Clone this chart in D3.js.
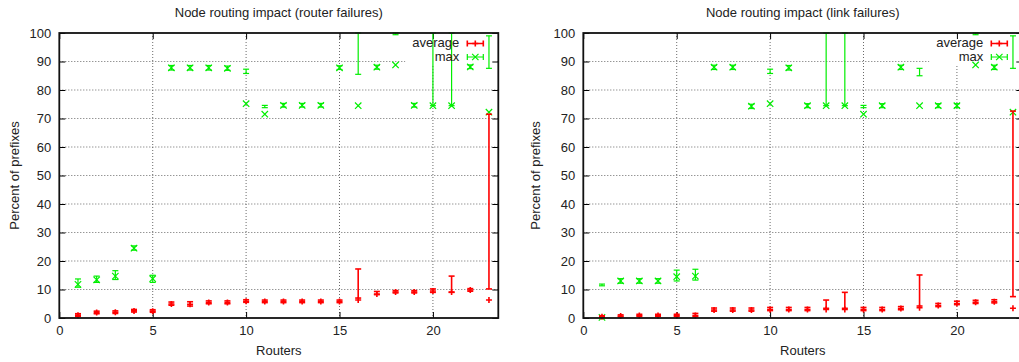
<!DOCTYPE html>
<html>
<head>
<meta charset="utf-8">
<script src="https://cdn.jsdelivr.net/npm/d3@7"></script>
<style>
  body { margin: 0; background: #fff; }
  svg { display: block; font-family: "Liberation Sans", Arial, sans-serif; }
</style>
</head>
<body>
<div id="chart"></div>
<script>
// routers on the x axis
const routers = [1, 2, 3, 4, 5, 6, 7, 8, 9, 10, 11, 12, 13, 14, 15, 16, 17, 18, 19, 20, 21, 22, 23];
const xTicks = [0, 5, 10, 15, 20];
const yTicks = [0, 10, 20, 30, 40, 50, 60, 70, 80, 90, 100];

// router failures
const avgRouter   = [1.0, 1.9, 2.0, 2.5, 2.4, 4.9, 4.8, 5.4, 5.4, 5.9, 5.8, 5.8, 5.8, 5.8, 5.8, 6.3, 8.4, 9.1, 9.1, 9.5, 9.1, 9.8, 6.3];
const avgRouterLo = [0.6, 1.5, 1.6, 2.1, 2.0, 4.5, 4.2, 5.0, 5.0, 5.5, 5.4, 5.4, 5.4, 5.4, 5.4, 7.0, 8.2, 8.8, 8.8, 9.0, 9.0, 9.4, 10.2];
const avgRouterHi = [1.5, 2.4, 2.5, 3.0, 2.9, 5.6, 5.7, 6.0, 6.0, 6.4, 6.3, 6.3, 6.3, 6.3, 6.3, 17.2, 9.3, 9.6, 9.6, 10.2, 14.7, 10.3, 71.5];
const maxRouter   = [11.8, 13.4, 14.7, 24.5, 13.8, 87.8, 87.8, 87.8, 87.6, 75.2, 71.5, 74.6, 74.6, 74.6, 87.8, 74.5, 88.0, 88.8, 74.6, 74.5, 74.5, 88.1, 72.2];
const maxRouterLo = [10.8, 12.5, 13.5, 23.8, 12.5, 87.0, 87.0, 87.0, 86.9, 85.8, 73.8, 74.0, 74.0, 74.0, 87.2, 85.5, 87.3, 99.4, 74.0, 74.5, 74.5, 87.5, 87.6];
const maxRouterHi = [13.7, 14.7, 16.6, 25.3, 15.0, 88.6, 88.6, 88.6, 88.4, 87.3, 74.6, 75.3, 75.3, 75.3, 88.5, 100, 88.7, 100, 75.3, 100, 100, 88.8, 99.0];

// link failures
const avgLink   = [0.4, 0.7, 0.9, 0.9, 0.9, 0.9, 2.8, 2.8, 2.8, 3.0, 3.0, 3.0, 3.0, 3.0, 3.0, 3.0, 3.3, 3.6, 4.4, 5.1, 5.5, 5.7, 3.4];
const avgLinkLo = [0.2, 0.4, 0.6, 0.6, 0.6, 0.5, 2.4, 2.4, 2.4, 2.6, 2.6, 2.6, 3.4, 3.4, 2.6, 2.6, 2.9, 4.2, 4.0, 4.7, 5.1, 5.3, 7.5];
const avgLinkHi = [0.8, 1.1, 1.3, 1.3, 1.3, 1.6, 3.5, 3.5, 3.5, 3.7, 3.7, 3.7, 6.3, 9.0, 3.7, 3.7, 4.0, 15.1, 5.1, 5.9, 6.2, 6.4, 72.6];
const maxLink   = [0.2, 13.0, 13.0, 13.0, 14.5, 14.7, 88.0, 88.0, 74.3, 75.2, 87.8, 74.5, 74.5, 74.5, 71.5, 74.5, 88.0, 74.5, 74.5, 74.5, 88.8, 88.0, 72.2];
const maxLinkLo = [11.3, 12.2, 12.2, 12.2, 13.0, 13.3, 87.2, 87.2, 73.5, 85.8, 87.0, 73.8, 74.5, 74.5, 73.8, 73.8, 87.2, 85.0, 73.8, 73.8, 99.4, 87.2, 87.6];
const maxLinkHi = [11.9, 13.8, 13.8, 13.8, 16.8, 17.1, 88.7, 88.7, 75.0, 87.3, 88.6, 75.2, 100, 100, 74.6, 75.2, 88.7, 87.6, 75.2, 75.2, 100, 88.7, 99.0];

const RED = "#ff0000";
const GREEN = "#00ee00";
const FONT = 13;

const svg = d3.select("#chart").append("svg")
  .attr("width", 1019)
  .attr("height", 362);

function zip(vals, lo, hi) {
  return routers.map((r, i) => ({ x: r, y: vals[i], lo: lo[i], hi: hi[i] }));
}

function drawPanel(opts) {
  const left = opts.left, right = opts.left + 439, top = 33, bottom = 318;
  const x = d3.scaleLinear().domain([0, 23.5]).range([left, right]);
  const y = d3.scaleLinear().domain([0, 100]).range([bottom, top]);
  const g = svg.append("g");

  // grid
  g.selectAll("line.gy").data(yTicks.filter(d => d > 0 && d < 100)).join("line")
    .attr("x1", left).attr("x2", right)
    .attr("y1", d => y(d)).attr("y2", d => y(d))
    .attr("stroke", "#444").attr("stroke-width", 0.8).attr("stroke-dasharray", "1,2");
  g.selectAll("line.gx").data(xTicks.filter(d => d > 0)).join("line")
    .attr("x1", d => x(d)).attr("x2", d => x(d))
    .attr("y1", top).attr("y2", bottom)
    .attr("stroke", "#444").attr("stroke-width", 0.8).attr("stroke-dasharray", "1,2");

  // key background hides grid behind it
  g.append("rect").attr("x", right - 93).attr("y", 35).attr("width", 92).attr("height", 29).attr("fill", "#fff");

  // axes with inward, mirrored ticks
  const axB = d3.axisBottom(x).tickValues(xTicks).tickSize(-6).tickPadding(8);
  const axT = d3.axisTop(x).tickValues(xTicks).tickSize(-6).tickFormat("");
  const axL = d3.axisLeft(y).tickValues(yTicks).tickSize(-6).tickPadding(8);
  const axR = d3.axisRight(y).tickValues(yTicks).tickSize(-6).tickFormat("");
  [[axB, `translate(0,${bottom})`], [axT, `translate(0,${top})`], [axL, `translate(${left},0)`], [axR, `translate(${right},0)`]]
    .forEach(([ax, tr]) => {
      const a = g.append("g").attr("transform", tr).call(ax);
      a.select(".domain").remove();
      a.selectAll("line").attr("stroke", "#000");
      a.selectAll("text").attr("font-size", FONT).attr("fill", "#222")
        .attr("font-family", "'Liberation Sans', Arial, sans-serif");
    });

  // series
  const series = [
    { data: zip(opts.maxV, opts.maxLo, opts.maxHi), color: GREEN, mark: "x", w: 1.2 },
    { data: zip(opts.avgV, opts.avgLo, opts.avgHi), color: RED, mark: "+", w: 1.6 }
  ];
  series.forEach(s => {
    const sg = g.append("g").attr("stroke", s.color).attr("stroke-width", s.w).attr("fill", "none");
    const pts = sg.selectAll("g").data(s.data).join("g");
    pts.append("line").attr("x1", d => x(d.x)).attr("x2", d => x(d.x))
      .attr("y1", d => y(d.lo)).attr("y2", d => y(d.hi));
    pts.append("line").attr("x1", d => x(d.x) - 3).attr("x2", d => x(d.x) + 3)
      .attr("y1", d => y(d.lo)).attr("y2", d => y(d.lo));
    pts.append("line").attr("x1", d => x(d.x) - 3).attr("x2", d => x(d.x) + 3)
      .attr("y1", d => y(d.hi)).attr("y2", d => y(d.hi));
    pts.append("path").attr("d", d => markPath(s.mark, x(d.x), y(d.y)));
  });

  // border
  g.append("rect").attr("x", left).attr("y", top).attr("width", right - left).attr("height", bottom - top)
    .attr("fill", "none").attr("stroke", "#111").attr("stroke-width", 1.8);

  // key
  const keys = [{ label: "average", color: RED, mark: "+", y: 47, w: 1.6 }, { label: "max", color: GREEN, mark: "x", y: 60.5, w: 1.2 }];
  keys.forEach(k => {
    g.append("text").attr("x", right - 39).attr("y", k.y).attr("text-anchor", "end")
      .attr("font-size", FONT).attr("fill", "#222").text(k.label);
    const cy = k.y - 3.5, x0 = right - 31, x1 = right - 15;
    const kg = g.append("g").attr("stroke", k.color).attr("stroke-width", k.w).attr("fill", "none");
    kg.append("path").attr("d", `M${x0},${cy}H${x1}M${x0},${cy - 3}V${cy + 3}M${x1},${cy - 3}V${cy + 3}`);
    kg.append("path").attr("d", markPath(k.mark, (x0 + x1) / 2, cy));
  });

  // titles
  svg.append("text").attr("x", (left + right) / 2).attr("y", 17).attr("text-anchor", "middle")
    .attr("font-size", FONT).attr("fill", "#222").text(opts.title);
  svg.append("text").attr("x", (left + right) / 2).attr("y", 355).attr("text-anchor", "middle")
    .attr("font-size", FONT).attr("fill", "#222").text("Routers");
  svg.append("text").attr("transform", `translate(${opts.ylabelX},${(top + bottom) / 2}) rotate(-90)`)
    .attr("text-anchor", "middle").attr("font-size", FONT).attr("fill", "#222").text("Percent of prefixes");
}

function markPath(type, cx, cy) {
  if (type === "+") return `M${cx - 3},${cy}H${cx + 3}M${cx},${cy - 3}V${cy + 3}`;
  const r = 3.2;
  return `M${cx - r},${cy - r}L${cx + r},${cy + r}M${cx - r},${cy + r}L${cx + r},${cy - r}`;
}

drawPanel({
  left: 59.3, ylabelX: 19, title: "Node routing impact (router failures)",
  avgV: avgRouter, avgLo: avgRouterLo, avgHi: avgRouterHi,
  maxV: maxRouter, maxLo: maxRouterLo, maxHi: maxRouterHi
});
drawPanel({
  left: 583.3, ylabelX: 540, title: "Node routing impact (link failures)",
  avgV: avgLink, avgLo: avgLinkLo, avgHi: avgLinkHi,
  maxV: maxLink, maxLo: maxLinkLo, maxHi: maxLinkHi
});
</script>
</body>
</html>
